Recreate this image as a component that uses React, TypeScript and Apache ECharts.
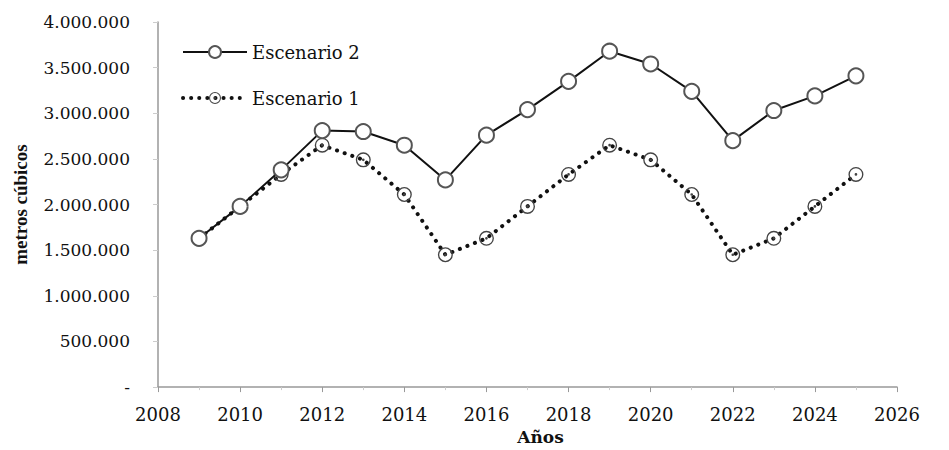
import React, { useEffect, useRef } from "react";
import * as echarts from "echarts";

const years = [2009, 2010, 2011, 2012, 2013, 2014, 2015, 2016, 2017, 2018, 2019, 2020, 2021, 2022, 2023, 2024, 2025];
const escenario2 = [1630000, 1980000, 2380000, 2810000, 2800000, 2650000, 2270000, 2760000, 3040000, 3350000, 3680000, 3540000, 3240000, 2700000, 3030000, 3190000, 3410000];
const escenario1 = [1630000, 1980000, 2330000, 2650000, 2490000, 2110000, 1450000, 1630000, 1980000, 2330000, 2650000, 2490000, 2110000, 1450000, 1630000, 1980000, 2330000];
const seriesNames = ["Escenario 2", "Escenario 1"];
const xAxisTitle = "Años";
const yAxisTitle = "metros cúbicos";

const SERIF = "'DejaVu Serif', 'Liberation Serif', serif";
const dotRing =
  "path://M0,10 A10,10 0 1,1 20,10 A10,10 0 1,1 0,10 Z M1.8,10 A8.2,8.2 0 1,0 18.2,10 A8.2,8.2 0 1,0 1.8,10 Z M8.2,10 A1.8,1.8 0 1,1 11.8,10 A1.8,1.8 0 1,1 8.2,10 Z";
const dottedStyle = { color: "#111", width: 4, type: [0.1, 8], cap: "round" };

export default function App() {
  const ref = useRef<HTMLDivElement>(null);
  useEffect(() => {
    if (!ref.current) return;
    const chart = echarts.init(ref.current, null, { renderer: "svg" });
    const fmt = (v: number) =>
      v === 0 ? "-" : String(Math.round(v)).replace(/\B(?=(\d{3})+(?!\d))/g, ".");
    chart.setOption({
      animation: false,
      backgroundColor: "#fff",
      grid: { left: 158, right: 52, top: 22, bottom: 59, containLabel: false },
      legend: {
        orient: "vertical",
        left: 176,
        top: 37,
        itemWidth: 64,
        itemHeight: 15,
        itemGap: 26,
        data: [
          { name: seriesNames[0] },
          { name: seriesNames[1], lineStyle: dottedStyle },
        ],
        textStyle: { fontFamily: SERIF, fontSize: 18, color: "#111", lineHeight: 20 },
      },
      xAxis: {
        type: "value",
        min: 2008,
        max: 2026,
        interval: 2,
        name: xAxisTitle,
        nameLocation: "middle",
        nameGap: 36,
        nameTextStyle: { fontFamily: SERIF, fontSize: 17, fontWeight: "bold", color: "#111", padding: [0, 0, 0, 26] },
        axisLine: { show: true, lineStyle: { color: "#999", width: 1.5 } },
        axisTick: { show: true, length: 5, lineStyle: { color: "#999" } },
        minorTick: { show: true, splitNumber: 2, length: 3, lineStyle: { color: "#ccc" } },
        splitLine: { show: false },
        axisLabel: {
          fontFamily: SERIF,
          fontSize: 18,
          color: "#111",
          margin: 18,
          formatter: (v: number) => String(v),
        },
      },
      yAxis: {
        type: "value",
        min: 0,
        max: 4000000,
        interval: 500000,
        name: yAxisTitle,
        nameLocation: "middle",
        nameRotate: 90,
        nameGap: 128,
        nameTextStyle: { fontFamily: "'Liberation Serif', serif", fontSize: 19, fontWeight: "bold", color: "#111" },
        axisLine: { show: true, lineStyle: { color: "#999", width: 1.5 } },
        axisTick: { show: true, length: 5, lineStyle: { color: "#ccc" } },
        splitLine: { show: false },
        axisLabel: {
          fontFamily: SERIF,
          fontSize: 17,
          color: "#111",
          margin: 28,
          formatter: fmt,
        },
      },
      series: [
        {
          name: seriesNames[0],
          type: "line",
          data: years.map((y, i) => [y, escenario2[i]]),
          symbol: "emptyCircle",
          symbolSize: 15,
          lineStyle: { color: "#111", width: 2 },
          itemStyle: { color: "#555", borderColor: "#555", borderWidth: 1.2 },
          z: 3,
        },
        {
          name: seriesNames[1],
          type: "line",
          data: years.map((y, i) => [y, escenario1[i]]),
          symbol: dotRing,
          symbolSize: 15,
          lineStyle: dottedStyle,
          itemStyle: { color: "#444" },
          z: 2,
        },
      ],
    });
    return () => chart.dispose();
  }, []);
  return <div ref={ref} style={{ width: 949, height: 450, position: "absolute", left: 0, top: 0 }} />;
}
